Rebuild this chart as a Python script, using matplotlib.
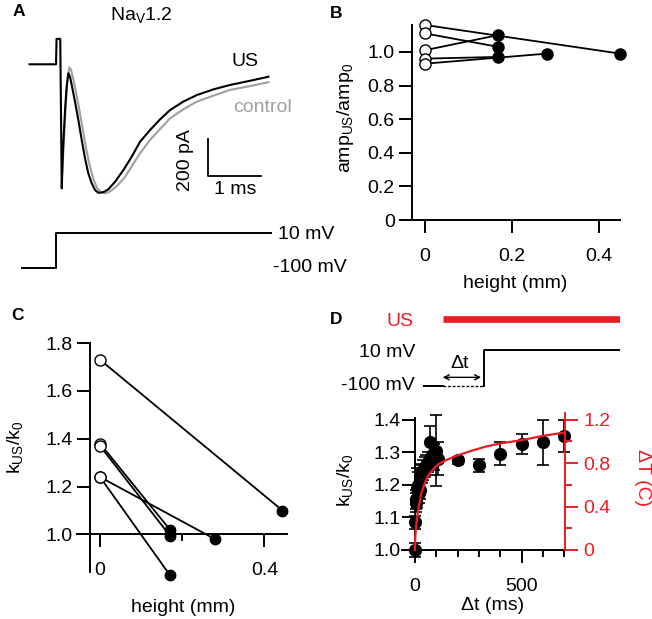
import matplotlib
matplotlib.use('Agg')
import matplotlib.pyplot as plt

plt.rcParams['font.family'] = ['Liberation Sans', 'DejaVu Sans']
plt.rcParams['font.size'] = 14
plt.rcParams['mathtext.fontset'] = 'custom'
plt.rcParams['mathtext.rm'] = 'Liberation Sans'
plt.rcParams['mathtext.it'] = 'Liberation Sans:italic'
plt.rcParams['mathtext.bf'] = 'Liberation Sans:bold'
plt.rcParams['mathtext.default'] = 'rm'

W, H = 652, 619
RED = '#ec1c24'
GRAY = '#a0a0a0'

# ---- panel A: Nav1.2 currents (time in ms, current in pA) ----
us_t = [-0.50, 0.00, 0.01, 0.08, 0.108, 0.132, 0.17, 0.198, 0.232, 0.264, 0.296,
        0.358, 0.421, 0.485, 0.547, 0.609, 0.674, 0.736, 0.798, 0.892, 0.987, 1.113,
        1.270, 1.428, 1.585, 1.774, 1.962, 2.151, 2.40, 2.655, 2.97, 3.28, 3.66, 4.006]
us_i = [0, 0, 139, 139, -678, -468, -250, -130, -49, -68, -113,
        -204, -304, -414, -514, -596, -650, -687, -702, -699, -683, -642,
        -578, -505, -423, -359, -301, -250, -204, -168, -137, -113, -90, -68]
ctrl_t = [0.12, 0.17, 0.21, 0.251, 0.283, 0.321, 0.368, 0.434, 0.50, 0.566, 0.632,
          0.698, 0.774, 0.849, 0.925, 1.019, 1.151, 1.302, 1.443, 1.585, 1.774, 1.962,
          2.151, 2.40, 2.655, 2.97, 3.28, 3.66, 4.006]
ctrl_i = [-580, -300, -100, -16, -31, -75, -140, -239, -348, -457, -550,
          -621, -676, -700, -705, -695, -665, -616, -550, -486, -413, -354,
          -295, -246, -204, -171, -140, -119, -98]
step_t = [-0.65, 0, 0, 4.05]
step_mv = [-100, -100, 10, 10]

# ---- panel B: amplitude ratio vs height ----
b_h0 = [0, 0, 0, 0, 0]
b_amp0 = [1.16, 1.11, 1.01, 0.96, 0.93]
b_h1 = [0.448, 0.168, 0.168, 0.168, 0.281]
b_amp1 = [0.99, 1.03, 1.10, 0.97, 0.99]

# ---- panel C: rate ratio vs height ----
c_h0 = [0, 0, 0, 0, 0]
c_k0 = [1.73, 1.38, 1.37, 1.24, 1.24]
c_h1 = [0.444, 0.17, 0.17, 0.28, 0.17]
c_k1 = [1.10, 1.02, 0.995, 0.98, 0.83]

# ---- panel D: rate ratio vs delay, and temperature rise ----
d_dt = [0, 2, 5, 7, 10, 15, 20, 25, 30, 35, 40, 45, 50, 60, 70, 80, 90, 100, 110,
        200, 300, 400, 500, 600, 700]
d_k = [1.00, 1.085, 1.145, 1.155, 1.19, 1.20, 1.175, 1.185, 1.22, 1.235, 1.245, 1.255,
       1.26, 1.27, 1.33, 1.29, 1.285, 1.305, 1.28, 1.275, 1.26, 1.295, 1.325, 1.33, 1.35]
d_err = [0.02, 0.02, 0.03, 0.03, 0.06, 0.04, 0.03, 0.03, 0.04, 0.03, 0.03, 0.03,
         0.03, 0.03, 0.05, 0.04, 0.04, 0.11, 0.05, 0.01, 0.02, 0.035, 0.03, 0.07, 0.05]
fit_dt = [0, 1, 2, 4, 8, 16, 30, 45, 60, 80, 110, 150, 200, 260, 330, 400, 500, 600, 700]
fit_dT = [0, 0.08, 0.13, 0.19, 0.26, 0.38, 0.52, 0.61, 0.68, 0.73, 0.79, 0.83, 0.87,
          0.91, 0.95, 0.98, 1.01, 1.05, 1.08]

# protocol schematic for D (arbitrary time units)
us_on = 0.10
v_step = 0.31
sweep_end = 1.0

fig = plt.figure(figsize=(W / 100, H / 100), dpi=100)


def box(left, top, right, bottom):
    # axes placed by pixel edges
    return fig.add_axes([left / W, 1 - bottom / H, (right - left) / W, (bottom - top) / H])


def label(x, y, s, **kw):
    kw.setdefault('ha', 'center')
    kw.setdefault('va', 'center')
    fig.text(x / W, 1 - y / H, s, **kw)


def igor(ax, sides=('left', 'bottom')):
    for name, sp in ax.spines.items():
        sp.set_visible(name in sides)
        sp.set_linewidth(1.4)
    ax.patch.set_visible(False)
    ax.tick_params(which='major', length=9.5, width=1.4)
    ax.tick_params(which='minor', length=5, width=1.4)
    ax.tick_params(axis='x', pad=10.5)
    ax.tick_params(axis='y', pad=3)


# ---------------- A ----------------
axA = box(25, 30, 275, 200)
axA.axis('off')
axA.set_xlim(-0.585, 4.13)
axA.set_ylim(-741.5, 187.4)
axA.plot(ctrl_t, ctrl_i, color=GRAY, lw=1.5)
axA.plot(us_t, us_i, color='black', lw=1.5)
sb_t, sb_i = 2.86, -610
axA.plot([sb_t, sb_t, sb_t + 1], [sb_i + 200, sb_i, sb_i], color='black', lw=1.3)

axV = box(21.5, 233.3, 270.7, 268.3)
axV.axis('off')
axV.set_xlim(-0.65, 4.05)
axV.set_ylim(-100, 10)
axV.plot(step_t, step_mv, color='black', lw=1.4, clip_on=False)

label(19, 11, 'A', fontweight='bold', fontsize=12.5)
label(141, 15, 'Na$_V$1.2')
label(245, 62, 'US')
label(263, 107, 'control', color=GRAY)
label(185, 160, '200 pA', rotation=90)
label(235, 190, '1 ms')
label(278, 234, '10 mV', ha='left')
label(273, 268, '-100 mV', ha='left')

# ---------------- B ----------------
axB = box(412, 25, 620, 220)
igor(axB)
axB.set_xlim(-0.03, 0.448)
axB.set_ylim(0, 1.16)
for h0, a0, h1, a1 in zip(b_h0, b_amp0, b_h1, b_amp1):
    axB.plot([h0, h1], [a0, a1], color='black', lw=1.3, clip_on=False, zorder=2)
axB.plot(b_h1, b_amp1, 'o', color='black', ms=8, clip_on=False, zorder=3)
axB.plot(b_h0, b_amp0, 'o', mfc='white', mec='black', mew=1, ms=8, clip_on=False, zorder=4)
axB.set_xticks([0, 0.2, 0.4])
axB.set_xticklabels(['0', '0.2', '0.4'])
axB.set_yticks([0, 0.2, 0.4, 0.6, 0.8, 1.0])
axB.set_yticklabels(['0', '0.2', '0.4', '0.6', '0.8', '1.0'])
label(336, 13, 'B', fontweight='bold', fontsize=12.5)
label(345, 118, 'amp$_{US}$/amp$_0$', rotation=90)
label(515, 283, 'height (mm)')

# ---------------- C ----------------
axC = box(77, 343, 287, 572)
igor(axC)
axC.set_xlim(-0.056, 0.455)
axC.set_ylim(0.843, 1.8)
axC.spines['bottom'].set_position(('data', 1.0))
axC.spines['left'].set_position(('data', -0.024))
for h0, k0, h1, k1 in zip(c_h0, c_k0, c_h1, c_k1):
    axC.plot([h0, h1], [k0, k1], color='black', lw=1.3, clip_on=False, zorder=2)
axC.plot(c_h1, c_k1, 'o', color='black', ms=7.5, clip_on=False, zorder=3)
axC.plot(c_h0, c_k0, 'o', mfc='white', mec='black', mew=1, ms=8, clip_on=False, zorder=4)
axC.set_xticks([0, 0.4])
axC.set_xticklabels(['0', '0.4'])
axC.set_xticks([0.2], minor=True)
axC.set_yticks([1.0, 1.2, 1.4, 1.6, 1.8])
label(18, 316, 'C', fontweight='bold', fontsize=12.5)
label(15, 447, 'k$_{US}$/k$_0$', rotation=90)
label(183, 608, 'height (mm)')

# ---------------- D schematic ----------------
axS = box(423, 310, 620, 392)
axS.axis('off')
axS.set_xlim(0, 1)
axS.set_ylim(-0.167, 2.11)
axS.plot([us_on, sweep_end], [1.86, 1.86], color=RED, lw=4.8, solid_capstyle='butt')
axS.plot([0, us_on], [0, 0], color='black', lw=1.4)
axS.plot([us_on, v_step], [0, 0], color='black', lw=1, ls=(0, (2, 1.3)))
axS.plot([v_step, v_step, sweep_end], [0, 1, 1], color='black', lw=1.4)
axS.annotate('', xy=(us_on, 0.24), xytext=(v_step - 0.015, 0.24),
             arrowprops=dict(arrowstyle='<->', lw=1, color='black',
                             shrinkA=0, shrinkB=0, mutation_scale=9))
label(336, 319, 'D', fontweight='bold', fontsize=12.5)
label(413, 321, 'US', ha='right', color=RED)
label(415, 352, '10 mV', ha='right')
label(415, 386, '-100 mV', ha='right')
label(460, 363, '\u0394t')

# ---------------- D data ----------------
axD = box(401.7, 413, 565, 550)
igor(axD)
axD.set_xlim(-62, 703)
axD.set_ylim(1.0, 1.42)
axD.spines['left'].set_position(('data', 0))
axD.spines['left'].set_bounds(1.0, 1.405)
eb = axD.errorbar(d_dt, d_k, yerr=d_err, fmt='o', color='black', ms=8.5,
                  capsize=4.5, elinewidth=1.2, capthick=1.2, clip_on=False)
for art in list(eb.lines[1]) + list(eb.lines[2]):
    art.set_clip_on(False)
axD.set_xticks([0, 500])
axD.set_xticks([100, 200, 300, 400, 600, 700], minor=True)
axD.set_yticks([1.0, 1.1, 1.2, 1.3, 1.4])
axD.tick_params(axis='y', pad=1)

axT = axD.twinx()
igor(axT, sides=('right',))
axT.set_ylim(0, 1.26)
axT.spines['right'].set_color(RED)
axT.plot(fit_dt, fit_dT, color=RED, lw=1.6, clip_on=False)
axT.set_yticks([0, 0.4, 0.8, 1.2])
axT.set_yticklabels(['0', '0.4', '0.8', '1.2'])
axT.set_yticks([0.2, 0.6, 1.0], minor=True)
axT.tick_params(axis='y', which='both', colors=RED, pad=3.5)

label(345, 480, 'k$_{US}$/k$_0$', rotation=90)
label(643, 478, '\u0394T (C)', rotation=270, color=RED)
label(493, 606, '\u0394t (ms)')

fig.savefig('out.png', dpi=100)
